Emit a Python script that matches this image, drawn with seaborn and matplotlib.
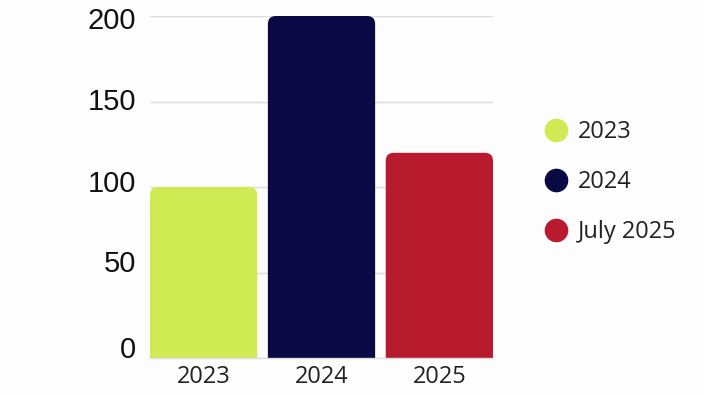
import matplotlib
matplotlib.use("Agg")
import matplotlib.pyplot as plt
import matplotlib.transforms as mtransforms
import seaborn as sns
import pandas as pd
from matplotlib.patches import PathPatch
from matplotlib.path import Path
from matplotlib.lines import Line2D

categories = ["2023", "2024", "2025"]
values = [100, 200, 120]
legend_labels = ["2023", "2024", "July 2025"]
colors = ["#d0ea54", "#0a0845", "#b81b2e"]
y_ticks = [0, 50, 100, 150, 200]

sns.set_theme(style="white")
plt.rcParams["font.family"] = ["Liberation Sans", "DejaVu Sans"]

df = pd.DataFrame({"year": categories, "value": values})

fig = plt.figure(figsize=(7.04, 3.95), dpi=100)
fig.patch.set_facecolor("#fdfdfd")
ax_w_px = 493 - 150
ax_h_px = 358 - 16
ax = fig.add_axes([150 / 704, 1 - 358 / 395, ax_w_px / 704, ax_h_px / 395])
ax.set_facecolor("#fdfdfd")

bar_w = 0.91
sns.barplot(data=df, x="year", y="value", hue="year", palette=colors,
            width=bar_w, legend=False, ax=ax, saturation=1, zorder=2)

ax.set_ylim(0, 200)
ax.set_xlim(-bar_w / 2, 2 + bar_w / 2)
ax.set_yticks(y_ticks)
ax.set_yticklabels([str(t) for t in y_ticks], fontsize=21, color="#111111")
for lab in ax.get_xticklabels():
    lab.set_fontfamily(["Open Sans", "DejaVu Sans"])
    lab.set_fontsize(17)
    lab.set_color("#222222")
ax.tick_params(axis="x", length=0, pad=5)
ax.tick_params(axis="y", length=0, pad=10)
ax.set_xlabel("")
ax.set_ylabel("")
ax.yaxis.grid(True, color="#dddddd", linewidth=1, zorder=0)
ax.set_axisbelow(True)
for s in ["left", "right", "top"]:
    ax.spines[s].set_visible(False)
ax.spines["bottom"].set_color("#dddddd")
ax.spines["bottom"].set_linewidth(1)

# the reference's y labels sit on a slightly compressed scale vs. gridlines
label_shift_px = [11, 11, 6, 3, -2]
for lab, dy in zip(ax.get_yticklabels(), label_shift_px):
    lab.set_transform(lab.get_transform() +
                      mtransforms.ScaledTranslation(0, dy / 100, fig.dpi_scale_trans))

# rounded top corners: replace each seaborn bar by a path with the same extent
px_x = ax_w_px / (2 + bar_w)
px_y = ax_h_px / 200.0
r_px = 8
rx = r_px / px_x
ry = r_px / px_y
for p in list(ax.patches):
    x, y, w, h = p.get_x(), p.get_y(), p.get_width(), p.get_height()
    fc = p.get_facecolor()
    p.set_visible(False)
    verts = [(x, y), (x, y + h - ry), (x, y + h), (x + rx, y + h),
             (x + w - rx, y + h), (x + w, y + h), (x + w, y + h - ry),
             (x + w, y), (x, y)]
    codes = [Path.MOVETO, Path.LINETO, Path.CURVE3, Path.CURVE3,
             Path.LINETO, Path.CURVE3, Path.CURVE3, Path.LINETO, Path.CLOSEPOLY]
    ax.add_patch(PathPatch(Path(verts, codes), facecolor=fc,
                           edgecolor="none", zorder=2))

handles = [Line2D([0], [0], marker="o", linestyle="", markersize=16,
                  markerfacecolor=c, markeredgecolor=c) for c in colors]
fig.legend(handles, legend_labels, loc="center left",
           bbox_to_anchor=(518 / 704, 1 - 182 / 395), frameon=False,
           prop={"family": ["Open Sans", "DejaVu Sans"], "size": 17},
           labelspacing=1.1, handletextpad=0.25, handlelength=1.4,
           labelcolor="#222222")

fig.savefig("out.png", dpi=100, facecolor=fig.get_facecolor())
